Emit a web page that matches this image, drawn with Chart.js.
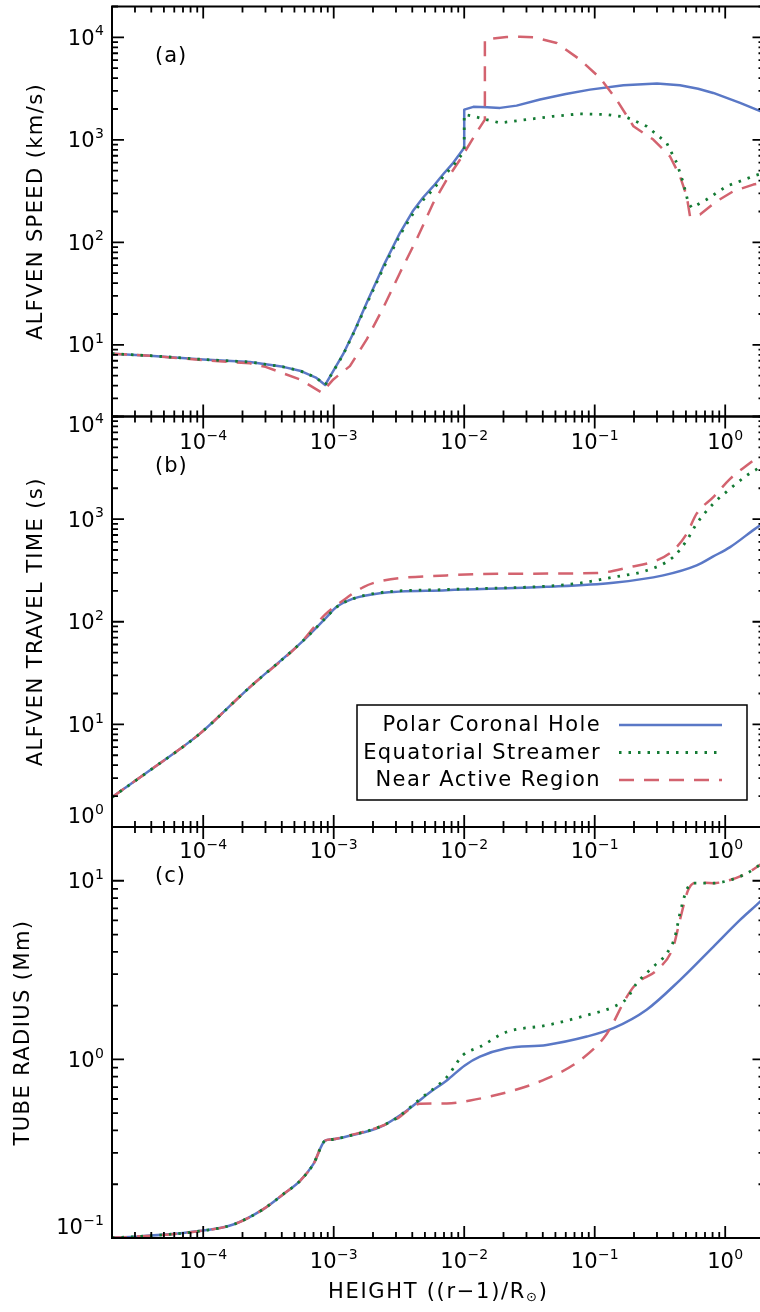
<!DOCTYPE html>
<html><head><meta charset="utf-8">
<script src="https://cdn.jsdelivr.net/npm/chart.js@4.4.1/dist/chart.umd.min.js"></script>
<style>
html,body{margin:0;padding:0;background:#fff;}
body{width:760px;height:1312px;overflow:hidden;position:relative;}
canvas{position:absolute;left:0;}
</style></head><body>
<canvas id="cA"></canvas><canvas id="cB"></canvas><canvas id="cC"></canvas>
<script>
// ---------------- DATA ----------------
const seriesNames = ['Polar Coronal Hole', 'Equatorial Streamer', 'Near Active Region'];
const heightRange = [2e-5, 2];
const heightTickExps = [-4, -3, -2, -1, 0];

// (a) Alfven speed (km/s)
const speedRange = [2, 2e4];
const speedTickExps = [1, 2, 3, 4];
const speedPolarX = [2e-5, 3.9e-5, 1e-4, 2.28e-4, 4.1e-4, 5.5e-4, 7.3e-4, 8.6e-4, 1.18e-3, 1.46e-3, 1.84e-3, 2.4e-3, 3.22e-3, 4.07e-3, 4.84e-3, 5.8e-3, 6.92e-3, 8.24e-3, 1.0e-2, 1.0e-2, 1.175e-2, 1.5e-2, 1.88e-2, 2.52e-2, 3.81e-2, 6.0e-2, 9.2e-2, 0.166, 0.30, 0.45, 0.62, 0.81, 1.30, 2.0];
const speedPolarY = [8.2, 7.85, 7.2, 6.8, 6.1, 5.6, 4.8, 4.06, 8.1, 14.2, 27.8, 58.6, 124, 205, 274, 353, 464, 597, 836, 1970, 2098, 2080, 2051, 2157, 2472, 2800, 3090, 3405, 3538, 3405, 3150, 2870, 2295, 1830];
const speedEqX = [2e-5, 3.9e-5, 1e-4, 2.28e-4, 4.1e-4, 5.5e-4, 7.3e-4, 8.6e-4, 1.18e-3, 1.46e-3, 1.84e-3, 2.4e-3, 3.22e-3, 4.07e-3, 4.84e-3, 5.8e-3, 6.92e-3, 8.24e-3, 1.0e-2, 1.0e-2, 1.175e-2, 1.4e-2, 1.88e-2, 3.01e-2, 4.82e-2, 7.72e-2, 0.124, 0.176, 0.25, 0.356, 0.425, 0.477, 0.521, 0.556, 0.721, 1.026, 1.64, 2.0];
const speedEqY = [8.2, 7.85, 7.2, 6.8, 6.1, 5.6, 4.8, 4.06, 8.0, 14.0, 27, 56, 118, 192, 258, 330, 440, 560, 774, 1765, 1698, 1603, 1465, 1578, 1698, 1792, 1765, 1660, 1357, 935, 597, 381, 243, 217, 262, 353, 442, 480];
const speedArX = [2e-5, 3.9e-5, 1e-4, 2.28e-4, 3e-4, 5.52e-4, 8.1e-4, 9.93e-4, 1.33e-3, 1.79e-3, 2.4e-3, 3.22e-3, 4.32e-3, 5.8e-3, 7.35e-3, 9.3e-3, 1.25e-2, 1.44e-2, 1.44e-2, 2.11e-2, 2.67e-2, 3.38e-2, 5.11e-2, 7.71e-2, 0.1097, 0.147, 0.198, 0.281, 0.377, 0.45, 0.507, 0.537, 0.641, 0.861, 1.154, 1.64, 2.0];
const speedArY = [8.2, 7.85, 7.1, 6.6, 6.1, 4.6, 3.42, 4.6, 6.2, 11.3, 23.1, 50.6, 107, 243, 410, 643, 1191, 1577, 9500, 10090, 10150, 10040, 8820, 6065, 4020, 2470, 1357, 1007, 692, 442, 282, 180, 187, 252, 315, 366, 384];

// (b) Alfven travel time (s)
const timeRange = [1, 1e4];
const timeTickExps = [0, 1, 2, 3, 4];
const timePolarX = [2e-5, 3.91e-5, 9.44e-5, 2.28e-4, 5.52e-4, 8.83e-4, 1.05e-3, 1.41e-3, 2.26e-3, 7.3e-3, 4.28e-2, 0.139, 0.335, 0.604, 0.81, 1.09, 1.85, 2.0];
const timePolarY = [1.95, 3.57, 8.13, 23.1, 61.2, 111, 139, 168, 190, 203, 219, 240, 283, 354, 433, 534, 870, 920];
const timeEqX = [2e-5, 3.91e-5, 9.44e-5, 2.28e-4, 5.52e-4, 8.83e-4, 1.05e-3, 1.41e-3, 2.26e-3, 7.3e-3, 4.28e-2, 7.7e-2, 0.139, 0.25, 0.40, 0.507, 0.604, 0.81, 1.09, 1.46, 1.85, 2.0];
const timeEqY = [1.95, 3.57, 8.13, 23.1, 61.2, 111, 139, 168, 192, 206, 222, 238, 272, 316, 427, 620, 902, 1413, 1977, 2663, 3210, 3450];
const timeArX = [2e-5, 3.91e-5, 9.44e-5, 2.28e-4, 5.52e-4, 8.5e-4, 1.18e-3, 1.69e-3, 2.26e-3, 7.3e-3, 2.38e-2, 0.1035, 0.186, 0.299, 0.40, 0.507, 0.604, 0.81, 1.09, 1.46, 1.85, 2.0];
const timeArY = [1.95, 3.57, 8.13, 23.1, 61.2, 116, 161, 218, 248, 283, 294, 298, 341, 396, 496, 721, 1130, 1637, 2470, 3334, 4170, 4450];

// (c) Tube radius (Mm)
const radiusRange = [0.1, 20];
const radiusTickExps = [-1, 0, 1];
const radiusPolarX = [2e-5, 2.91e-5, 1e-4, 1.7e-4, 2.89e-4, 4.11e-4, 5.52e-4, 6.98e-4, 8.6e-4, 9.6e-4, 1.33e-3, 2.26e-3, 3.62e-3, 5.47e-3, 7.35e-3, 1.01e-2, 1.32e-2, 2.11e-2, 4.28e-2, 8.7e-2, 0.139, 0.25, 0.45, 0.81, 1.30, 1.85, 2.0];
const radiusPolarY = [0.1005, 0.1015, 0.110, 0.119, 0.145, 0.176, 0.209, 0.259, 0.351, 0.356, 0.374, 0.417, 0.516, 0.655, 0.762, 0.925, 1.035, 1.153, 1.205, 1.342, 1.495, 1.897, 2.78, 4.27, 6.04, 7.65, 8.1];
const radiusEqX = [2e-5, 2.91e-5, 1e-4, 1.7e-4, 2.89e-4, 4.11e-4, 5.52e-4, 6.98e-4, 8.6e-4, 9.6e-4, 1.33e-3, 2.26e-3, 3.04e-3, 4.58e-3, 7.35e-3, 9.8e-3, 1.32e-2, 2.11e-2, 4.28e-2, 8.7e-2, 0.139, 0.176, 0.209, 0.281, 0.356, 0.412, 0.45, 0.507, 0.569, 0.81, 1.09, 1.46, 1.85, 2.0];
const radiusEqY = [0.1005, 0.1015, 0.110, 0.119, 0.145, 0.176, 0.209, 0.259, 0.351, 0.356, 0.374, 0.42, 0.47, 0.60, 0.796, 1.057, 1.175, 1.423, 1.552, 1.767, 1.968, 2.19, 2.66, 3.30, 3.92, 4.86, 6.57, 8.90, 9.70, 9.7, 10.1, 11.0, 12.3, 12.8];
const radiusArX = [2e-5, 2.91e-5, 1e-4, 1.7e-4, 2.89e-4, 4.11e-4, 5.52e-4, 6.98e-4, 8.6e-4, 9.6e-4, 1.33e-3, 2.26e-3, 3.04e-3, 4.58e-3, 7.35e-3, 1.11e-2, 2.38e-2, 4.28e-2, 7.7e-2, 0.124, 0.176, 0.209, 0.299, 0.40, 0.45, 0.521, 0.604, 0.81, 1.09, 1.46, 1.85, 2.0];
const radiusArY = [0.1005, 0.1015, 0.110, 0.119, 0.145, 0.176, 0.209, 0.259, 0.351, 0.356, 0.376, 0.42, 0.465, 0.564, 0.566, 0.589, 0.670, 0.780, 0.987, 1.393, 2.24, 2.66, 3.16, 4.27, 6.04, 8.90, 9.78, 9.7, 10.1, 11.0, 12.3, 12.8];

// ---------------- STYLE ----------------
const FONT = '"DejaVu Sans", "Liberation Sans", Arial, sans-serif';
const STYLES = [
  {color: '#5a78c6', width: 2.5, dash: [], order: 3},
  {color: '#137a33', width: 2.8, dash: [2.5, 7], order: 1},
  {color: '#d3636f', width: 2.5, dash: [15, 10], order: 2}
];

function makeDatasets(pairs, smooth) {
  return pairs.map((p, i) => ({
    label: seriesNames[i],
    data: p[0].map((x, k) => ({x: x, y: p[1][k]})),
    showLine: true, pointRadius: 0, pointHoverRadius: 0, fill: false,
    tension: smooth ? 0.4 : 0,
    cubicInterpolationMode: smooth ? 'monotone' : 'default',
    borderColor: STYLES[i].color, borderWidth: STYLES[i].width,
    borderDash: STYLES[i].dash, borderCapStyle: 'butt', borderJoinStyle: 'round',
    order: STYLES[i].order
  }));
}

function decadeTicks(min, max) {
  const out = [];
  for (let e = Math.floor(Math.log10(min)); e <= Math.ceil(Math.log10(max)); e++) {
    for (let k = 1; k <= 9; k++) {
      const v = k * Math.pow(10, e);
      if (v >= min * 0.9999 && v <= max * 1.0001) out.push({v: v, major: k === 1});
    }
  }
  return out;
}

function drawPow(ctx, exp, x, y, align) {
  const base = '10', sup = exp < 0 ? '\u2212' + (-exp) : String(exp);
  ctx.letterSpacing = '0px';
  ctx.font = '21px ' + FONT; const wb = ctx.measureText(base).width;
  ctx.font = '14px ' + FONT; const ws = ctx.measureText(sup).width;
  const gap = 0.5;
  const total = wb + gap + ws;
  const left = align === 'center' ? x - total / 2 : x - total;
  ctx.textAlign = 'left'; ctx.textBaseline = 'middle';
  ctx.font = '21px ' + FONT; ctx.fillText(base, left, y);
  ctx.font = '14px ' + FONT; ctx.fillText(sup, left + wb + gap, y - 7.5);
}

const idlPlugin = {
  id: 'idl',
  afterDatasetsDraw(chart, args, cfg) {
    const ctx = chart.ctx, a = chart.chartArea, xs = chart.scales.x, ys = chart.scales.y;
    ctx.save();
    ctx.fillStyle = '#000'; ctx.strokeStyle = '#000';
    // ticks
    ctx.lineWidth = 1.8; ctx.setLineDash([]);
    ctx.beginPath();
    decadeTicks(heightRange[0], heightRange[1]).forEach(t => {
      const px = xs.getPixelForValue(t.v), len = t.major ? 12 : 6;
      ctx.moveTo(px, a.bottom); ctx.lineTo(px, a.bottom - len);
      ctx.moveTo(px, a.top); ctx.lineTo(px, a.top + len);
    });
    decadeTicks(cfg.yRange[0], cfg.yRange[1]).forEach(t => {
      const py = ys.getPixelForValue(t.v), len = t.major ? 12 : 6;
      ctx.moveTo(a.left, py); ctx.lineTo(a.left + len, py);
      ctx.moveTo(a.right, py); ctx.lineTo(a.right - len, py);
    });
    ctx.stroke();
    // frame
    ctx.lineWidth = 2;
    ctx.strokeRect(a.left, a.top, a.right - a.left, a.bottom - a.top);
    // x tick labels
    heightTickExps.forEach(e => {
      drawPow(ctx, e, xs.getPixelForValue(Math.pow(10, e)), a.bottom + cfg.xLabelDy, 'center');
    });
    // y tick labels
    cfg.yExps.forEach(e => {
      let py = ys.getPixelForValue(Math.pow(10, e)) + 2;
      py = Math.min(Math.max(py, a.top + 10), a.bottom - 9);
      drawPow(ctx, e, 104, py, 'right');
    });
    // y title
    ctx.save();
    ctx.translate(cfg.titleX, (a.top + a.bottom) / 2);
    ctx.rotate(-Math.PI / 2);
    ctx.font = '21px ' + FONT; ctx.letterSpacing = '1.4px';
    ctx.textAlign = 'center'; ctx.textBaseline = 'middle';
    ctx.fillText(cfg.title, 0, 0);
    ctx.restore();
    // panel tag
    ctx.font = '21px ' + FONT; ctx.letterSpacing = '1px';
    ctx.textAlign = 'left'; ctx.textBaseline = 'middle';
    ctx.fillText(cfg.tag, 155, a.top + 50);
    // legend
    if (cfg.legend) {
      const L = cfg.legend;
      const top = a.top + L.dy;
      ctx.lineWidth = 1.5; ctx.setLineDash([]);
      ctx.strokeRect(L.left, top, L.right - L.left, L.h);
      chart.data.datasets.forEach((d, i) => {
        const y = top + L.row0 + i * L.rowStep;
        ctx.font = '21px ' + FONT; ctx.letterSpacing = '1.4px';
        ctx.textAlign = 'right'; ctx.textBaseline = 'middle';
        ctx.fillText(d.label, L.textRight, y + 1);
        ctx.strokeStyle = d.borderColor; ctx.lineWidth = d.borderWidth;
        ctx.setLineDash(d.borderDash); ctx.lineCap = 'butt';
        ctx.beginPath(); ctx.moveTo(L.lineX0, y); ctx.lineTo(L.lineX1, y); ctx.stroke();
        ctx.setLineDash([]); ctx.strokeStyle = '#000';
      });
    }
    // x title
    if (cfg.xTitle) {
      const y = a.bottom + cfg.xTitle.dy;
      const cx = (a.left + a.right) / 2;
      ctx.letterSpacing = '1.7px';
      ctx.textAlign = 'left'; ctx.textBaseline = 'middle';
      ctx.font = '21px ' + FONT; const w1 = ctx.measureText(cfg.xTitle.main).width;
      ctx.font = '13px ' + FONT; const w2 = ctx.measureText(cfg.xTitle.sub).width;
      ctx.font = '21px ' + FONT; const w3 = ctx.measureText(cfg.xTitle.end).width;
      let x0 = cx - (w1 + w2 + w3) / 2;
      ctx.font = '21px ' + FONT; ctx.fillText(cfg.xTitle.main, x0, y);
      ctx.font = '13px ' + FONT; ctx.fillText(cfg.xTitle.sub, x0 + w1, y + 5);
      ctx.font = '21px ' + FONT; ctx.fillText(cfg.xTitle.end, x0 + w1 + w2, y);
    }
    ctx.restore();
  }
};

const CANVAS_W = 775, AREA_LEFT = 112, AREA_RIGHT = 764.5;

function makePanel(id, areaTop, areaBottom, belowH, yRange, datasets, cfg) {
  const canvas = document.getElementById(id);
  const cTop = Math.floor(areaTop) - 20;
  const H = Math.ceil(areaBottom) - cTop + belowH;
  canvas.width = CANVAS_W; canvas.height = H;
  canvas.style.width = CANVAS_W + 'px'; canvas.style.height = H + 'px';
  canvas.style.top = cTop + 'px';
  const padTop = areaTop - cTop;
  const xH = (cTop + H) - areaBottom;
  cfg.yRange = yRange;
  return new Chart(canvas, {
    type: 'scatter',
    data: {datasets: datasets},
    options: {
      responsive: false, animation: false, devicePixelRatio: 1,
      events: [],
      layout: {padding: {left: 0, right: CANVAS_W - AREA_RIGHT, top: padTop, bottom: 0}},
      plugins: {legend: {display: false}, tooltip: {enabled: false}, idl: cfg},
      scales: {
        x: {type: 'logarithmic', min: heightRange[0], max: heightRange[1],
            grid: {display: false}, border: {display: false}, ticks: {display: false},
            afterFit: s => { s.height = xH; }},
        y: {type: 'logarithmic', min: yRange[0], max: yRange[1],
            grid: {display: false}, border: {display: false}, ticks: {display: false},
            afterFit: s => { s.width = AREA_LEFT; }}
      }
    },
    plugins: [idlPlugin]
  });
}

makePanel('cA', 6.5, 416.5, 50, speedRange,
  makeDatasets([[speedPolarX, speedPolarY], [speedEqX, speedEqY], [speedArX, speedArY]], false),
  {yExps: speedTickExps, title: 'ALFVEN SPEED (km/s)', titleX: 37, tag: '(a)', xLabelDy: 27});

makePanel('cB', 416.5, 827, 50, timeRange,
  makeDatasets([[timePolarX, timePolarY], [timeEqX, timeEqY], [timeArX, timeArY]], true),
  {yExps: timeTickExps, title: 'ALFVEN TRAVEL TIME (s)', titleX: 37, tag: '(b)', xLabelDy: 26,
   legend: {left: 357, right: 747, dy: 288.5, h: 95, row0: 20, rowStep: 27.5, textRight: 601, lineX0: 619, lineX1: 722}});

makePanel('cC', 827, 1238, 76, radiusRange,
  makeDatasets([[radiusPolarX, radiusPolarY], [radiusEqX, radiusEqY], [radiusArX, radiusArY]], true),
  {yExps: radiusTickExps, title: 'TUBE RADIUS (Mm)', titleX: 24, tag: '(c)', xLabelDy: 24.5,
   xTitle: {main: 'HEIGHT ((r\u22121)/R', sub: '\u2299', end: ')', dy: 55}});
</script></body></html>
